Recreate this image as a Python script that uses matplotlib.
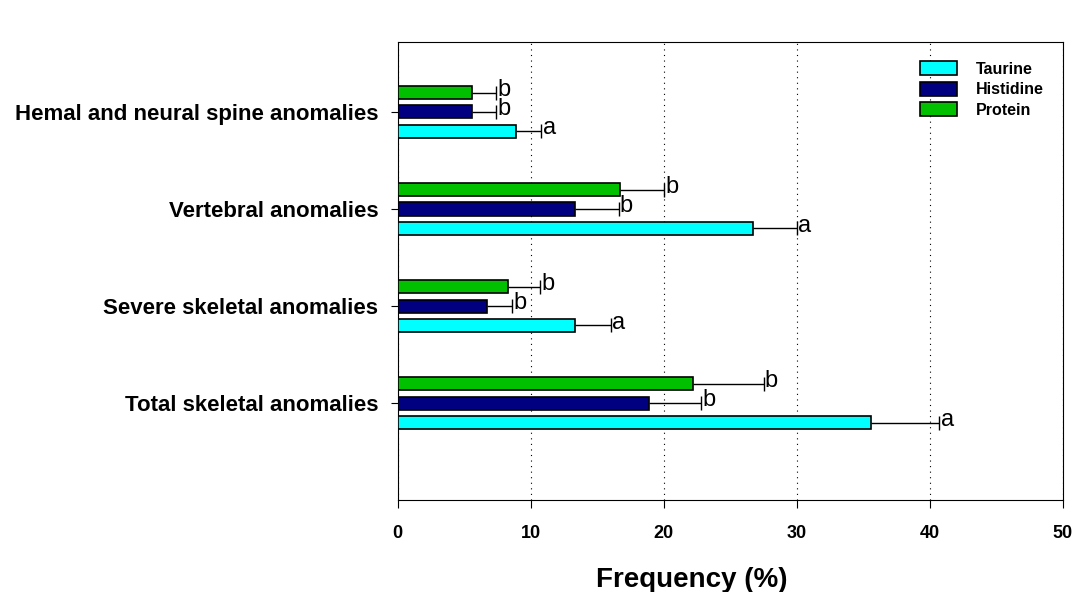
import matplotlib.pyplot as plt
import numpy as np

plt.rcParams['font.family'] = ['Liberation Sans', 'DejaVu Sans']

# data (bottom to top)
categories = ["Total skeletal anomalies", "Severe skeletal anomalies",
              "Vertebral anomalies", "Hemal and neural spine anomalies"]
series = ["Taurine", "Histidine", "Protein"]
taurine = [35.6, 13.3, 26.7, 8.9]
taurine_err = [5.1, 2.7, 3.3, 1.9]
histidine = [18.9, 6.7, 13.3, 5.6]
histidine_err = [3.9, 1.9, 3.3, 1.8]
protein = [22.2, 8.3, 16.7, 5.6]
protein_err = [5.3, 2.4, 3.3, 1.8]
letters_taurine = ["a", "a", "a", "a"]
letters_histidine = ["b", "b", "b", "b"]
letters_protein = ["b", "b", "b", "b"]

colors = ["#00ffff", "#000080", "#00c000"]
values = [taurine, histidine, protein]
errors = [taurine_err, histidine_err, protein_err]
letters = [letters_taurine, letters_histidine, letters_protein]

fig = plt.figure(figsize=(10.78, 5.92), dpi=100)
ax = fig.add_axes([0.369, 0.155, 0.617, 0.774])

y = np.arange(len(categories))
offsets = [-0.2, 0.0, 0.2]
h = 0.135

for vals, errs, lets, col, off, name in zip(values, errors, letters, colors, offsets, series):
    vals = np.array(vals)
    errs = np.array(errs)
    ax.barh(y + off, vals, height=h, color=col, edgecolor="black", linewidth=1.2, label=name, zorder=3)
    # one-sided error bar, cap only at the outer end
    ax.errorbar(vals, y + off, xerr=[np.zeros_like(errs), errs], fmt="none",
                ecolor="black", elinewidth=1, capsize=0, zorder=2)
    ax.plot(vals + errs, y + off, ls="none", marker="|", ms=10, mew=1, color="black", zorder=3)
    for xv, yv, t in zip(vals + errs, y + off, lets):
        ax.text(xv + 0.1, yv + 0.03, t, fontsize=17, va="center", ha="left", zorder=4)

ax.set_xlim(0, 50)
ax.set_ylim(-1.0, 3.72)
ax.set_xticks([0, 10, 20, 30, 40, 50])
ax.set_yticks(y)
ax.set_yticklabels(categories, fontsize=16, fontweight="bold")
for lab in ax.get_xticklabels():
    lab.set_fontsize(13)
    lab.set_fontweight("bold")
ax.tick_params(axis="x", direction="out", length=6, pad=12)
ax.tick_params(axis="y", direction="out", length=5, pad=9)
ax.xaxis.grid(True, linestyle=(0, (1, 4)), color="black", linewidth=0.8, zorder=0)
ax.set_xlabel("Frequency (%)", fontsize=20, fontweight="bold")
ax.xaxis.set_label_coords(0.442, -0.145)

leg = ax.legend(loc="upper right", frameon=False, fontsize=11.5, handlelength=2.3,
                handleheight=1.0, handletextpad=1.2, labelspacing=0.3, borderaxespad=0.8)
for t in leg.get_texts():
    t.set_fontweight("bold")

fig.savefig("out.png", dpi=100)
